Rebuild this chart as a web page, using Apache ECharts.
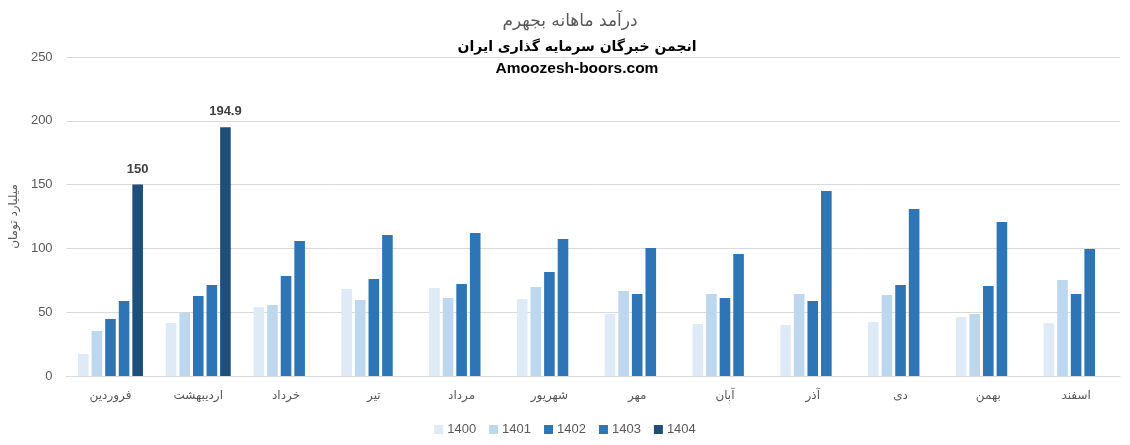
<!DOCTYPE html>
<html>
<head>
<meta charset="utf-8">
<script src="https://cdn.jsdelivr.net/npm/echarts@6/dist/echarts.min.js"></script>
<style>html,body{margin:0;padding:0;background:#fff}#c{width:1130px;height:445px}</style>
</head>
<body>
<div id="c"></div>
<script>
const categories = ['فروردین','اردیبهشت','خرداد','تیر','مرداد','شهریور','مهر','آبان','آذر','دی','بهمن','اسفند'];
const seriesNames = ['1400','1401','1402','1403','1404'];
const v1400 = [17.2, 41.5, 54, 68.2, 69, 60.3, 48.6, 40.8, 40, 42.3, 46.2, 41.5];
const v1401 = [35.3, 49.6, 55.6, 59.6, 61.1, 69.7, 66.6, 64.3, 64.3, 63.5, 48.6, 75.2];
const v1402 = [44.7, 62.7, 78.4, 76, 72.1, 81.5, 64.3, 61.1, 58.8, 71.3, 70.5, 64.3];
const v1403 = [58.8, 71.3, 105.8, 110.5, 112, 107.4, 100.3, 95.6, 145, 130.9, 120.7, 99.5];
const v1404 = [150, 194.9, null, null, null, null, null, null, null, null, null, null];
const yTicks = [0, 50, 100, 150, 200, 250];
const titleText = 'درآمد ماهانه بجهرم';
const subText1 = 'انجمن خبرگان سرمایه گذاری ایران';
const subText2 = 'Amoozesh-boors.com';
const yName = 'میلیارد تومان';

const colors = ['#DEEBF7', '#BDD7EE', '#2E75B6', '#2E75B6', '#1F4E79'];
const allValues = [v1400, v1401, v1402, v1403, v1404];
const FONT = '"DejaVu Sans", "Liberation Sans", sans-serif';

const chart = echarts.init(document.getElementById('c'), null, {renderer: 'canvas'});
chart.setOption({
  animation: false,
  backgroundColor: '#fff',
  title: [
    {text: titleText, left: 565, top: 8, textAlign: 'center',
     textStyle: {fontFamily: FONT, fontSize: 17, fontWeight: 'normal', color: '#595959'}},
    {text: subText1, left: 572, top: 35, textAlign: 'center',
     textStyle: {fontFamily: FONT, fontSize: 14, fontWeight: 'bold', color: '#000'}},
    {text: subText2, left: 572, top: 56, textAlign: 'center',
     textStyle: {fontFamily: '"Liberation Sans", Arial, sans-serif', fontSize: 15.5, fontWeight: 'bold', color: '#000'}}
  ],
  legend: {
    bottom: 4, left: 'center', itemWidth: 9, itemHeight: 9, itemGap: 13,
    icon: 'rect',
    textStyle: {fontFamily: '"Liberation Sans", sans-serif', fontSize: 13, color: '#595959', padding: [0, 0, 0, -1]},
    data: seriesNames
  },
  grid: {left: 64, right: 10, top: 57, bottom: 69, containLabel: false},
  xAxis: {
    type: 'category', data: categories,
    axisLine: {lineStyle: {color: '#D9D9D9'}},
    axisTick: {show: false},
    axisLabel: {fontFamily: FONT, fontSize: 12, color: '#595959', margin: 14}
  },
  yAxis: {
    type: 'value', min: yTicks[0], max: yTicks[yTicks.length - 1], interval: 50,
    name: yName, nameLocation: 'middle', nameGap: 46, nameRotate: 90,
    nameTextStyle: {fontFamily: FONT, fontSize: 12, color: '#595959'},
    axisLine: {show: false}, axisTick: {show: false},
    axisLabel: {fontFamily: '"Liberation Sans", sans-serif', fontSize: 13, color: '#595959', margin: 14},
    splitLine: {lineStyle: {color: '#D9D9D9', width: 1}}
  },
  series: seriesNames.map((n, i) => ({
    name: n, type: 'bar', data: allValues[i],
    itemStyle: {color: colors[i]},
    barGap: '28%', barCategoryGap: '26%',
    label: i === 4 ? {show: true, position: 'top', distance: 9,
      fontFamily: '"Liberation Sans", sans-serif', fontSize: 13, fontWeight: 'bold', color: '#404040'} : {show: false}
  }))
});
</script>
</body>
</html>
